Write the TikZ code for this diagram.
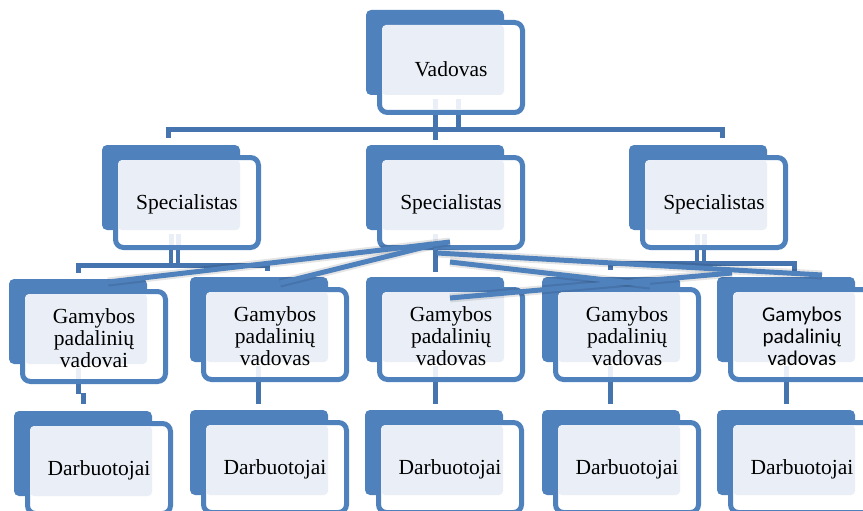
\documentclass[tikz,border=0pt]{standalone}
\usepackage{fontspec}
\setmainfont{Liberation Serif}
\newfontfamily\calibrilike{Carlito}
\definecolor{accent}{HTML}{4F81BD}
\definecolor{tint}{HTML}{EAEFF7}
\definecolor{conn}{HTML}{4674AE}
\tikzset{
  bus/.style={draw=conn, line width=5pt},
  link/.style={draw=accent, line width=5pt},
  linkshadow/.style={draw=black, opacity=.10, line width=9pt},
  gapline/.style={draw=tint, line width=5pt},
  boxtext/.style={align=center, inner sep=0pt, text=black},
  serifbig/.style={font=\fontsize{21.5}{22}\selectfont},
  sansbig/.style={font=\calibrilike\fontsize{21}{22}\selectfont},
}
% One org-chart box: solid back plate, outlined front card, tinted overlap, caption.
% #1 name, #2 top-left of the back plate, #3 text style, #4 caption
\newcommand\orgbox[4]{%
  \begin{scope}[shift={#2}]
    \fill[accent, rounded corners=5] (0,0) rectangle (138,85);
    \draw[accent, line width=5pt, fill=white, rounded corners=8] (13.5,12.5) rectangle (156.5,102.5);
    \fill[tint, rounded corners=4] (16,15) rectangle (138,85);
    \node[boxtext, #3] (#1) at (85,59) {#4};
  \end{scope}}

\begin{document}
\begin{tikzpicture}[x=1pt, y=-1pt]
\useasboundingbox (0,0) rectangle (863,511);

% ---------- bus lines ----------
% top level
\coordinate (topL) at (165.5,129);
\coordinate (topR) at (724.5,129);
\draw[bus] (435,110) -- (435,140);
\draw[bus] (458,110) -- (458,129);
\draw[bus] (topL) -- (topR);
\draw[bus] (168,129) -- (168,138);
\draw[bus] (722,129) -- (722,138);
% left specialist
\draw[bus, line width=4.5pt] (171,245) -- (171,265);
\draw[bus, line width=4.5pt] (178,245) -- (178,265);
\draw[bus] (76,265) -- (270,265);
\draw[bus] (78.5,265) -- (78.5,273);
\draw[bus] (267.5,265) -- (267.5,271);
% middle specialist
\draw[bus] (435,245) -- (435,272);
% right specialist
\draw[bus, line width=4.5pt] (697,245) -- (697,263);
\draw[bus, line width=4.5pt] (704,245) -- (704,263);
\draw[bus] (607.5,263) -- (796.5,263);
\draw[bus] (610,263) -- (610,270);
\draw[bus] (794,263) -- (794,272);
% production heads to workers
\draw[bus] (78.5,380) -- (78.5,394);
\draw[bus] (83,393) -- (83,404);
\draw[bus] (258.5,380) -- (258.5,404);
\draw[bus] (435,380) -- (435,404);
\draw[bus] (610,380) -- (610,404);
\draw[bus] (786,380) -- (786,404);

% ---------- boxes ----------
\orgbox{vad}{(366,10)}{serifbig}{Vadovas}
\orgbox{specL}{(102,145)}{serifbig}{Specialistas}
\orgbox{specM}{(366,145)}{serifbig}{Specialistas}
\orgbox{specR}{(629,145)}{serifbig}{Specialistas}
\orgbox{gam1}{(9,279)}{serifbig}{Gamybos\\padalinių\\vadovai}
\orgbox{gam2}{(190,277)}{serifbig}{Gamybos\\padalinių\\vadovas}
\orgbox{gam3}{(366,277)}{serifbig}{Gamybos\\padalinių\\vadovas}
\orgbox{gam4}{(542,277)}{serifbig}{Gamybos\\padalinių\\vadovas}
\orgbox{gam5}{(717,277)}{sansbig}{Gamybos\\padalinių\\vadovas}
\orgbox{darb1}{(14,411)}{serifbig}{Darbuotojai}
\orgbox{darb2}{(190,410)}{serifbig}{Darbuotojai}
\orgbox{darb3}{(365,410)}{serifbig}{Darbuotojai}
\orgbox{darb4}{(542,410)}{serifbig}{Darbuotojai}
\orgbox{darb5}{(717,410)}{serifbig}{Darbuotojai}

% ---------- pale stubs of the links inside the cards ----------
\draw[gapline] (435,99) -- (435,110);
\draw[gapline] (458,99) -- (458,110);
\draw[gapline] (171,234) -- (171,245);
\draw[gapline] (178,234) -- (178,245);
\draw[gapline] (435,234) -- (435,245);
\draw[gapline] (697,234) -- (697,245);
\draw[gapline] (704,234) -- (704,245);
\draw[gapline] (78.5,368) -- (78.5,379);
\draw[gapline] (258.5,366) -- (258.5,377);
\draw[gapline] (435,366) -- (435,377);
\draw[gapline] (610,366) -- (610,377);
\draw[gapline] (786,366) -- (786,377);

% ---------- slanted links from the middle specialist ----------
\coordinate (a1) at (450,242);  \coordinate (a2) at (108,282);
\coordinate (b1) at (433,245);  \coordinate (b2) at (280,283);
\coordinate (c1) at (437,253);  \coordinate (c2) at (822,275);
\coordinate (d1) at (450,262);  \coordinate (d2) at (650,285);
\coordinate (e1) at (450,298);  \coordinate (e2) at (732,273);
\begin{scope}[shift={(1,3.5)}]
  \foreach \p/\q in {a1/a2, b1/b2, c1/c2, d1/d2, e1/e2}
    \draw[linkshadow] (\p) -- (\q);
\end{scope}
\foreach \p/\q in {a1/a2, b1/b2, c1/c2, d1/d2, e1/e2}
  \draw[link] (\p) -- (\q);
\end{tikzpicture}
\end{document}
